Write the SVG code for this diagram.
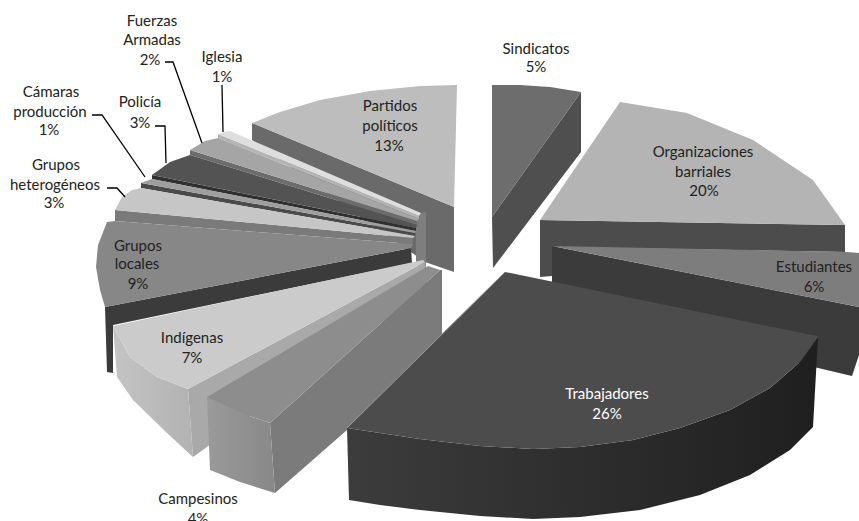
<svg xmlns="http://www.w3.org/2000/svg" width="859" height="521" viewBox="0 0 859 521">
<defs>
<linearGradient id="gTrab" x1="0" y1="0" x2="1" y2="0"><stop offset="0" stop-color="#3c3c3c"/><stop offset="1" stop-color="#1f1f1f"/></linearGradient>
<linearGradient id="gCamp" x1="0" y1="0" x2="1" y2="0"><stop offset="0" stop-color="#9a9a9a"/><stop offset="1" stop-color="#888"/></linearGradient>
<linearGradient id="gInd" x1="0" y1="0" x2="1" y2="0"><stop offset="0" stop-color="#c4c4c4"/><stop offset="1" stop-color="#b2b2b2"/></linearGradient>
</defs>
<style>
text{font-family:Lato,"Open Sans","Liberation Sans",sans-serif;font-size:15px;fill:#222;text-anchor:middle}
.w{fill:#fff}
.lead{fill:none;stroke:#000;stroke-width:1.3}
</style>
<rect width="859" height="521" fill="#fff"/>

<g id="partidos">
<polygon points="252,123 454,207 454,272 425,262 252,140" fill="#6a6a6a"/>
<polygon points="252,123 280,112 320,100 370,91 420,86 457,85 454,207" fill="#bdbdbd"/>
<polygon points="416,214 426,212 426,268 416,266" fill="#7e7e7e"/>
</g>
<g id="iglesia">
<polygon points="218,134 419,216 419,219 218,138" fill="#b4b4b4"/>
<polygon points="218,134 224,132 230,131 421,213 419,216" fill="#dedede"/>
</g>
<g id="fuerzas">
<polygon points="190,150 417,221 417,225 190,155" fill="#6c6c6c"/>
<polygon points="190,150 205,141 218,138 419,219 417,221" fill="#a5a5a5"/>
</g>
<g id="policia">
<polygon points="152,175 416,228 416,231 152,179" fill="#303030"/>
<polygon points="152,175 170,162 190,155 417,225 416,228" fill="#535353"/>
</g>
<g id="camaras">
<polygon points="141,183 415,233 415,236 141,188" fill="#4a4a4a"/>
<polygon points="141,183 146,181 152,179 416,231 415,233" fill="#9e9e9e"/>
</g>
<g id="heterogeneos">
<polygon points="115,210 413,238 413,244 115,221" fill="#7a7a7a"/>
<polygon points="115,210 122,197 132,190 141,188 415,236 413,238" fill="#c6c6c6"/>
</g>
<g id="locales">
<polygon points="105,307 411,248 412,263 113,325 113,373 107,372" fill="#3b3b3b"/>
<polygon points="107,222 115,221 413,244 411,248 105,307 100,290 96,267 98,245" fill="#878787"/>
</g>
<g id="indigenas">
<polygon points="188,389 425,262 427,290 193,457" fill="#a9a9a9"/>
<polygon points="113,326 130,357 157,377 188,389 193,457 167,433 133,400 117,377" fill="url(#gInd)"/>
<polygon points="113,326 130,357 157,377 188,389 425,262 423,260" fill="#cbcbcb"/>
</g>
<g id="campesinos">
<polygon points="270,423 440,270 442,270 442,347 275,493" fill="#7b7b7b"/>
<polygon points="207,397 238,412 270,423 275,493 240,482 210,470" fill="url(#gCamp)"/>
<polygon points="207,397 238,412 270,423 440,270 428,266" fill="#8d8d8d"/>
</g>
<g id="sindicatos">
<polygon points="581,92 581,152 493,268 492,217" fill="#4f4f4f"/>
<polygon points="492,85 520,85 550,87 581,92 492,217" fill="#6d6d6d"/>
</g>
<g id="organizaciones">
<polygon points="540,220 845,225 845,252 552,247 552,276 540,277" fill="#4c4c4c"/>
<polygon points="540,220 620,102 687,113 753,140 813,180 845,225" fill="#b4b4b4"/>
</g>
<g id="estudiantes">
<polygon points="552,246 859,307 859,355 852,376 552,305" fill="#3b3b3b"/>
<polygon points="552,246 847,252 859,253 859,307" fill="#7d7d7d"/>
</g>
<g id="trabajadores">
<polygon points="347,428 380,433 420,439 480,446 533,449 580,447 633,440 680,428 730,410 770,388 800,362 818,337 813,427 790,450 750,475 700,495 640,510 580,517 533,519 480,516 420,510 380,505 349,500" fill="url(#gTrab)"/>
<polygon points="505,272 817,336 818,337 800,362 770,388 730,410 680,428 633,440 580,447 533,449 480,446 420,439 380,433 347,428" fill="#4c4c4c"/>
<line x1="505" y1="272" x2="347" y2="428" stroke="#9a9a9a" stroke-width="1"/>
</g>

<g id="connectors">
<polyline class="lead" points="165,62 173,62 202,143"/>
<polyline class="lead" points="222,85 223,132"/>
<polyline class="lead" points="92,115 102,115 145,177"/>
<polyline class="lead" points="155,126 165,126 166,163"/>
<polyline class="lead" points="107,188 117,188 125,197"/>
</g>

<g id="labels">
<text x="152" y="26">Fuerzas</text><text x="152" y="45">Armadas</text><text x="150" y="65">2%</text>
<text x="222" y="62">Iglesia</text><text x="222" y="82">1%</text>
<text x="51" y="97">Cámaras</text><text x="50" y="117">producción</text><text x="49" y="135">1%</text>
<text x="140" y="107">Policía</text><text x="140" y="128">3%</text>
<text x="56" y="170">Grupos</text><text x="55" y="190">heterogéneos</text><text x="54" y="208">3%</text>
<text x="390" y="111">Partidos</text><text x="390" y="131">políticos</text><text x="389" y="151">13%</text>
<text x="536" y="54">Sindicatos</text><text x="536" y="72">5%</text>
<text x="703" y="157">Organizaciones</text><text x="703" y="177">barriales</text><text x="704" y="196">20%</text>
<text x="814" y="272">Estudiantes</text><text x="814" y="292">6%</text>
<text class="w" x="607" y="399">Trabajadores</text><text class="w" x="607" y="419">26%</text>
<text x="138" y="251">Grupos</text><text x="137" y="269">locales</text><text x="138" y="289">9%</text>
<text x="192" y="343">Indígenas</text><text x="192" y="363">7%</text>
<text x="198" y="504">Campesinos</text><text x="198" y="524">4%</text>
</g>
</svg>
